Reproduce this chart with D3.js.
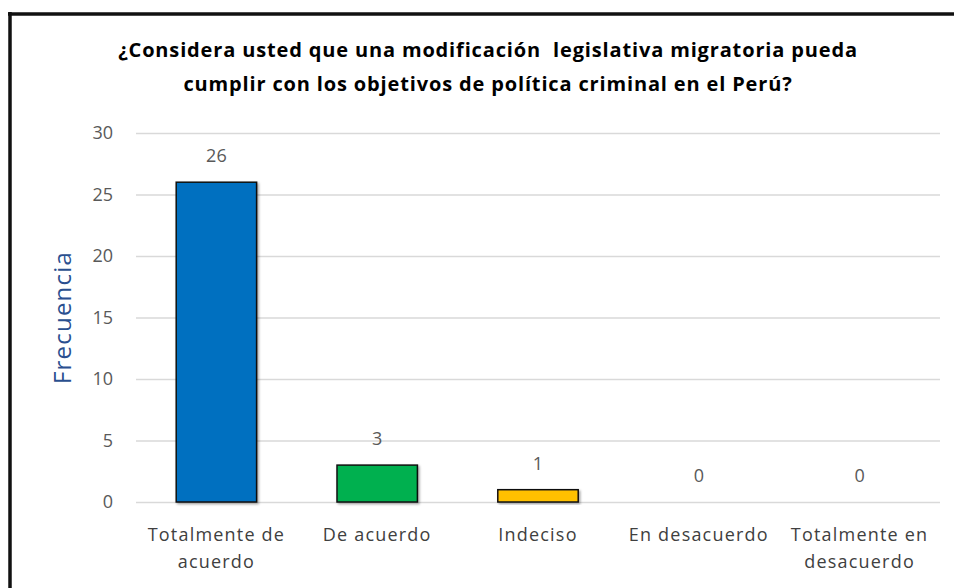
<!DOCTYPE html>
<html>
<head>
<meta charset="utf-8">
<script src="https://cdn.jsdelivr.net/npm/d3@7"></script>
<style>
  body { margin: 0; background: #fff; }
  text { font-family: "Open Sans", sans-serif; }
</style>
</head>
<body>
<div id="chart"></div>
<script>
// chart data
const categories = ["Totalmente de acuerdo", "De acuerdo", "Indeciso", "En desacuerdo", "Totalmente en desacuerdo"];
const labelLines = [["Totalmente de", "acuerdo"], ["De acuerdo"], ["Indeciso"], ["En desacuerdo"], ["Totalmente en", "desacuerdo"]];
const values = [26, 3, 1, 0, 0];
const barColors = ["#0070C0", "#00B050", "#FFC000", "#A5A5A5", "#5B9BD5"];
const yTicks = [0, 5, 10, 15, 20, 25, 30];
const titleLines = [
  "¿Considera usted que una modificación  legislativa migratoria pueda",
  "cumplir con los objetivos de política criminal en el Perú?"
];

const svgWidth = 954;
const svgHeight = 588;
const margin = { top: 133, right: 14, bottom: 86, left: 136 };
const width = svgWidth - margin.left - margin.right;
const height = svgHeight - margin.top - margin.bottom;

const svg = d3.select("#chart")
  .append("svg")
  .attr("width", svgWidth)
  .attr("height", svgHeight);

// soft shadow under the bars
const defs = svg.append("defs");
defs.append("filter")
  .attr("id", "shadow")
  .attr("x", "-10%").attr("y", "-10%")
  .attr("width", "130%").attr("height", "130%")
  .append("feDropShadow")
  .attr("dx", 1.5).attr("dy", 1.5)
  .attr("stdDeviation", 1.2)
  .attr("flood-color", "#000")
  .attr("flood-opacity", 0.35);

// outer frame (top and left edges visible)
svg.append("line")
  .attr("x1", 8).attr("x2", svgWidth).attr("y1", 14).attr("y2", 14)
  .attr("stroke", "#111").attr("stroke-width", 3.5);
svg.append("line")
  .attr("x1", 10).attr("x2", 10).attr("y1", 12).attr("y2", svgHeight)
  .attr("stroke", "#111").attr("stroke-width", 3.5);

// title
const title = svg.append("text")
  .attr("text-anchor", "middle")
  .attr("font-weight", "bold")
  .attr("font-size", "20px")
  .attr("letter-spacing", "0.85px")
  .attr("fill", "#000");
titleLines.forEach((t, i) => {
  title.append("tspan")
    .attr("x", 488)
    .attr("y", 57 + i * 34)
    .style("white-space", "pre")
    .text(t);
});

const chartGroup = svg.append("g")
  .attr("transform", `translate(${margin.left}, ${margin.top})`);

const xScale = d3.scaleBand()
  .domain(categories)
  .range([0, width])
  .paddingInner(0.5)
  .paddingOuter(0.25);

const yScale = d3.scaleLinear()
  .domain([0, 30])
  .range([height, 0]);

// gridlines + y labels
const leftAxis = d3.axisLeft(yScale)
  .tickValues(yTicks)
  .tickSize(-width)
  .tickPadding(23);

const yAxis = chartGroup.append("g").call(leftAxis);
yAxis.select(".domain").remove();
yAxis.selectAll(".tick line").attr("stroke", "#d9d9d9").attr("stroke-width", 1.3);
yAxis.selectAll(".tick text")
  .attr("fill", "#595959")
  .attr("font-size", "18px")
  .attr("font-family", "\"Open Sans\", sans-serif");

// bars
chartGroup.selectAll(".bar")
  .data(values)
  .enter()
  .filter(d => d > 0)
  .append("rect")
  .attr("class", "bar")
  .attr("x", d => xScale(categories[values.indexOf(d)]))
  .attr("y", d => yScale(d))
  .attr("width", xScale.bandwidth())
  .attr("height", d => height - yScale(d))
  .attr("fill", d => barColors[values.indexOf(d)])
  .attr("stroke", "#111")
  .attr("stroke-width", 1.5)
  .attr("filter", "url(#shadow)");

// value labels
chartGroup.selectAll(".valueText")
  .data(values)
  .enter()
  .append("text")
  .attr("class", "valueText")
  .attr("x", (d, i) => xScale(categories[i]) + xScale.bandwidth() / 2)
  .attr("y", d => yScale(d) - 20)
  .attr("text-anchor", "middle")
  .attr("font-size", "18px")
  .attr("fill", "#595959")
  .text(d => d);

// category labels
const catText = chartGroup.selectAll(".catText")
  .data(labelLines)
  .enter()
  .append("text")
  .attr("class", "catText")
  .attr("text-anchor", "middle")
  .attr("font-size", "18px")
  .attr("letter-spacing", "1.2px")
  .attr("fill", "#404040");

catText.each(function(lines, i) {
  const cx = xScale(categories[i]) + xScale.bandwidth() / 2;
  lines.forEach((line, j) => {
    d3.select(this).append("tspan")
      .attr("x", cx)
      .attr("y", height + 39 + j * 27)
      .text(line);
  });
});

// y axis title
chartGroup.append("text")
  .attr("transform", `translate(-65, ${height / 2}) rotate(-90)`)
  .attr("text-anchor", "middle")
  .attr("font-size", "24px")
  .attr("letter-spacing", "1.2px")
  .attr("fill", "#2A4F8F")
  .text("Frecuencia");
</script>
</body>
</html>
